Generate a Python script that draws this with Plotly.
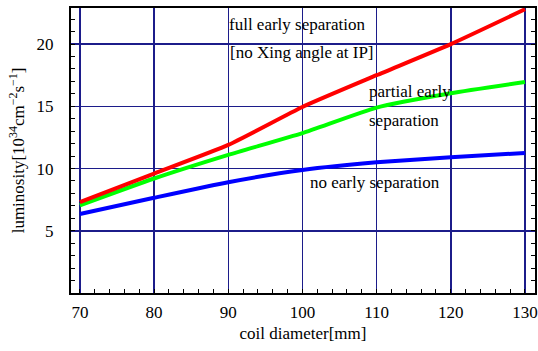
import plotly.graph_objects as go

diameter = [70, 80, 90, 100, 110, 120, 130]
full_early = [7.3, 9.6, 11.9, 14.95, 17.5, 20.0, 22.8]
partial_early = [7.05, 9.2, 11.1, 12.85, 14.9, 16.05, 16.95]
no_early = [6.35, 7.65, 8.9, 9.88, 10.5, 10.9, 11.25]

xticks = [70, 80, 90, 100, 110, 120, 130]
yticks = [5, 10, 15, 20]

FONT = "Liberation Serif, Times New Roman, serif"
GRID = "#1c1c8a"

fig = go.Figure()
for vals, col in [(no_early, "#0000ff"), (partial_early, "#00ff00"), (full_early, "#ff0000")]:
    fig.add_trace(go.Scatter(x=diameter, y=vals, mode="lines",
                             line=dict(color=col, width=4, shape="spline", smoothing=0.5),
                             showlegend=False, hoverinfo="skip"))

annots = [
    (99.3, 21.6, "full early separation"),
    (99.9, 19.36, "[no Xing angle at IP]"),
    (114.5, 16.2, "partial early"),
    (113.7, 13.9, "separation"),
    (109.8, 8.84, "no early separation"),
]
for x, y, t in annots:
    fig.add_annotation(x=x, y=y, text=t, showarrow=False,
                       font=dict(family=FONT, size=17, color="black"),
                       xanchor="center", yanchor="middle")

fig.update_layout(
    width=538, height=351,
    margin=dict(l=71, r=3, t=8, b=58),
    paper_bgcolor="white", plot_bgcolor="white",
    font=dict(family=FONT, size=17, color="black"),
    showlegend=False,
    hovermode=False,
    xaxis2=dict(overlaying="x", matches="x", side="top", range=[68.8, 131.35],
                tickvals=xticks, showticklabels=False, ticks="inside", ticklen=4,
                tickcolor="black", showgrid=False, zeroline=False, showline=False,
                automargin=False),
    xaxis=dict(
        range=[68.8, 131.35], tickvals=xticks, ticktext=[str(v) for v in xticks],
        showgrid=True, gridcolor=GRID, gridwidth=1.5,
        showline=True, linecolor="black", linewidth=2, mirror=True,
        ticks="inside", ticklen=0, zeroline=False, automargin=False,
        ticklabelstandoff=3,
        minor=dict(dtick=2, tick0=70, ticks="inside", ticklen=4, tickcolor="black", showgrid=False),
        title=dict(text="coil diameter[mm]", font=dict(family=FONT, size=17), standoff=6),
        tickfont=dict(family=FONT, size=17),
    ),
    yaxis=dict(
        range=[0, 22.9], tickvals=yticks, ticktext=[str(v) for v in yticks],
        showgrid=True, gridcolor=GRID, gridwidth=1.5,
        showline=True, linecolor="black", linewidth=2, mirror="allticks",
        ticks="inside", ticklen=0, zeroline=False, automargin=False,
        ticklabelstandoff=12,
        minor=dict(dtick=1, tick0=0, ticks="inside", ticklen=4, tickcolor="black", showgrid=False),
        title=dict(text="luminosity[10<sup>34</sup>cm<sup>−2</sup>s<sup>−1</sup>]",
                   font=dict(family=FONT, size=17), standoff=8),
        tickfont=dict(family=FONT, size=17),
    ),
)
fig.write_html("out.html", config={"displayModeBar": False, "staticPlot": True},
               post_script="document.body.style.margin='0';document.body.style.overflow='hidden';")
